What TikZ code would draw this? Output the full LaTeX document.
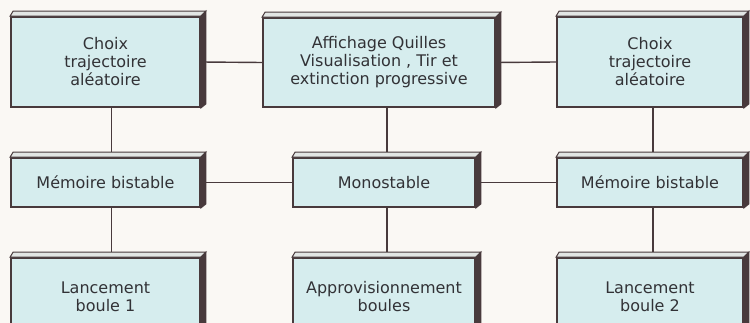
\documentclass[tikz,border=0pt]{standalone}
\usepackage{fontspec}
\setmainfont{DejaVu Sans}
\usetikzlibrary{arrows.meta,positioning,calc}
\definecolor{boxfill}{RGB}{214,237,238}
\definecolor{boxline}{RGB}{72,58,60}
\definecolor{paper}{RGB}{250,248,244}
\definecolor{inktext}{RGB}{50,50,54}
\definecolor{topshade}{RGB}{226,230,228}

\begin{document}
\begin{tikzpicture}[x=1pt, y=-1pt,
  box/.style={draw=boxline, line width=1.8pt, fill=boxfill,
    minimum width=189pt, minimum height=90pt, inner sep=0pt,
    align=center, text=inktext, font=\fontsize{16}{18}\selectfont},
  wire/.style={draw=boxline, line width=1.4pt},
  topface/.style={fill=topshade, draw=boxline, line width=1pt},
  sideface/.style={fill=boxline, draw=boxline, line width=1pt}
]
\path[use as bounding box, fill=paper] (0,0) rectangle (750,323);
\clip (0,0) rectangle (750,323);

% top row
\node[box] (choixg) at (105.5,62) {Choix\\trajectoire\\aléatoire};
\node[box, minimum width=232pt, minimum height=89pt] (affich) at (379,62.5)
  {Affichage Quilles\\Visualisation , Tir et\\extinction progressive};
\node[box, minimum width=186pt] (choixd) at (650,62)
  {Choix\\trajectoire\\aléatoire};

% middle row
\node[box, minimum height=49pt] (memg) at (105.5,182.5) {Mémoire bistable};
\node[box, minimum width=182pt, minimum height=49pt] (mono) at (384,182.5)
  {Monostable};
\node[box, minimum width=186pt, minimum height=49pt] (memd) at (650,182.5)
  {Mémoire bistable};

% bottom row
\node[box, minimum height=77pt] (lanceg) at (105.5,296.5) {Lancement\\boule 1};
\node[box, minimum width=182pt, minimum height=77pt] (appro) at (384,296.5)
  {Approvisionnement\\boules};
\node[box, minimum width=186pt, minimum height=77pt] (lanced) at (650,296.5)
  {Lancement\\boule 2};

% links
\draw[wire] (choixg.east) -- (affich.west);
\draw[wire] (affich.east) -- (choixd.west);
\draw[wire] (memg.east) -- (mono.west);
\draw[wire] (mono.east) -- (memd.west);
\draw[wire] ([xshift=6pt]choixg.south) -- ([xshift=6pt]memg.north);
\draw[wire] ([xshift=3pt]mono.north |- affich.south) -- ([xshift=3pt]mono.north);
\draw[wire] ([xshift=3pt]choixd.south) -- ([xshift=3pt]memd.north);
\draw[wire] ([xshift=6pt]memg.south) -- ([xshift=6pt]lanceg.north);
\draw[wire] ([xshift=3pt]mono.south) -- ([xshift=3pt]appro.north);
\draw[wire] ([xshift=3pt]memd.south) -- ([xshift=3pt]lanced.north);

% relief of the boxes
\foreach \n in {choixg,affich,choixd,memg,mono,memd,lanceg,appro,lanced} {
  \draw[topface] (\n.north west) -- ++(3,-5) -- ($(\n.north east)+(5,-5)$)
    -- (\n.north east) -- cycle;
  \draw[sideface] (\n.north east) -- ++(5,-5) -- ($(\n.south east)+(5,-4)$)
    -- (\n.south east) -- cycle;
}
\end{tikzpicture}
\end{document}
